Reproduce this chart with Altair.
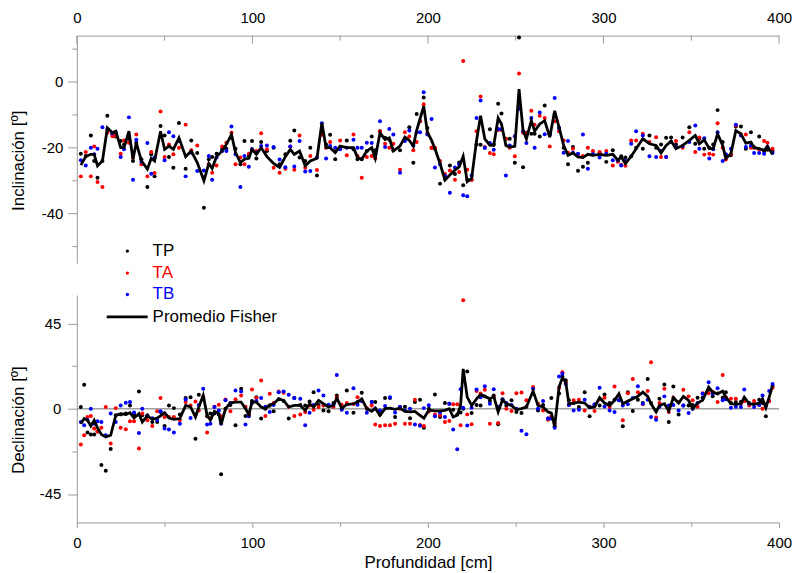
import altair as alt
import pandas as pd

# ---------------- Inclinación (upper panel) ----------------
depth_inc = [
    2.3, 5.1, 8, 9.9, 11.8, 14.6, 17.4, 20.3, 22.2, 25,
    26.9, 29.7, 32, 33.9, 36.8, 40.2, 42.4, 44.3, 47.7, 50,
    52.5, 55, 58.2, 62, 65.2, 68.6, 72.4, 75.2, 77.1, 79.6,
    82.8, 85.2, 88.1, 90.4, 93.2, 95.5, 98, 99.8, 102.3, 105,
    108.3, 112.1, 115.5, 118.8, 121.6, 123.9, 126.9, 130.1, 133, 136.8,
    139.6, 142, 144.3, 147.2, 150, 153.8, 157.6, 159.9, 162.3, 165.2,
    168, 170, 172.7, 175.6, 178, 180.3, 184.1, 186.9, 189.4, 191.7,
    193.6, 195.5, 197.6, 199.7, 202.1, 204, 206.9, 209.7, 212.5, 215.4,
    217.8, 220.1, 222.4, 224.9, 227.7, 230, 232.4, 235.3, 237.5, 240,
    241.9, 244.4, 246.6, 249.5, 251.9, 254.2, 256.1, 258.9, 260.8, 263.7,
    266.5, 269.4, 272.2, 274.7, 277.3, 279.8, 282.6, 285.5, 288.3, 291.1,
    294, 297.8, 301.6, 305.3, 308.2, 310.1, 312.5, 315.8, 318.6, 322.4,
    326.2, 330, 332.8, 335.7, 338.5, 341.3, 345.1, 348.9, 352.3, 354.6,
    357.4, 360.3, 362.5, 365, 367.9, 369.7, 372.6, 375.4, 378.3, 381.1,
    384, 385.8, 388.7, 391.5, 393.4, 396.3,
]
fisher_inc = [
    -25.3, -22.7, -22, -22, -25.5, -24, -14, -15.5, -15, -20,
    -20, -15, -23.5, -18.5, -24, -26.5, -23.2, -24, -15, -20.5,
    -19.5, -20.5, -17, -22.7, -21, -24.5, -30, -24.8, -26.3, -22.7,
    -21, -19, -16, -21.5, -24.5, -23.5, -23.2, -20.5, -22, -20,
    -22.7, -24.8, -26, -22.7, -20.5, -22, -21, -25.5, -24, -23.2,
    -12.5, -20, -20, -21.5, -19.5, -20, -20, -23, -23.5, -21,
    -20, -23.2, -15.5, -17.5, -17, -21, -19.5, -16.8, -17.8, -19.5,
    -14.7, -11.3, -7.4, -15.3, -17.8, -20.3, -24.8, -29.8, -28.3, -26.8,
    -25.8, -22.6, -30.3, -29.3, -17.8, -10.3, -17.3, -19.3, -19.3, -11,
    -12.8, -19.3, -19.8, -19.6, -2.2, -14.8, -17.3, -11.8, -15, -12.8,
    -11.8, -16.8, -8.8, -13.8, -19.3, -22.3, -21.6, -22.8, -23, -22,
    -22.3, -22, -22.3, -22, -23.8, -22.8, -24.8, -22.6, -20.3, -17.3,
    -18.8, -19.3, -21.6, -19.3, -18, -20.3, -19.3, -17.8, -16.3, -18.8,
    -17.6, -20.3, -20.3, -15.8, -19.3, -23.3, -21.8, -14.8, -15.8, -18.6,
    -18.3, -20, -20.3, -20.8, -19.6, -22,
]
tp_inc = [
    -21.8, -22.5, -16.3, -24, -29.1, -24, -10.3, -16, -16.6, -18,
    -19, -17.3, -24, -18.5, -23.5, -31.9, -22, -28.7, -13.4, -16.3,
    -22.8, -26.1, -12.5, -26.4, -17.8, -21.6, -38.2, -23.5, -22.8, -21.8,
    -20.5, -20.3, -17, -20.3, -25, -18, -22.5, -18, -23.3, -18.3,
    -21, -20, -25, -22, -17.9, -14.8, -23, -24, -20, -28.4,
    -14, -19, -16.1, -23.5, -20, -17.8, -20.5, -23.5, -23.5, -21,
    -16.6, -20.8, -15, -17, -17.6, -20.8, -20.8, -17.3, -13.8, -24.6,
    -9.8, -12, -4.8, -14, -20, -20.3, -30.9, -29.5, -25.4, -28,
    -24.5, -31.4, -29.7, -29.7, -19, -19.1, -20, -14.4, -19, -6.7,
    -9.6, -17.3, -17.3, -24.6, 13.4, -25.9, -15.5, -15.8, -15.8, -16.6,
    -7.2, -16, -10, -14, -20, -25, -19.8, -27, -25.8, -24.6,
    -22, -21.5, -24.3, -20.8, -24, -22.6, -23, -22.6, -20, -20.3,
    -16.3, -20, -19, -17, -16.9, -19, -16.9, -13.8, -18.8, -17.3,
    -20.3, -20, -19, -8.6, -18.3, -22.3, -22.3, -13.6, -13.6, -20.3,
    -15.3, -19.9, -16.6, -21, -20.6, -21,
]
ta_inc = [
    -28.7, -21.3, -28.7, -19.6, -30.4, -31.9, -15.5, -16.5, -16.3, -21.8,
    -17.8, -18.5, -23, -16, -25, -28.7, -21.3, -27.7, -9, -22.8,
    -19, -22, -20, -13, -20.8, -19.3, -29, -25, -27.6, -25.4,
    -19.6, -18.5, -15.5, -25, -23, -25, -21.8, -20.5, -21, -15.6,
    -20.5, -26.1, -27.6, -26.4, -19.6, -26.7, -16.3, -26.1, -22.5, -26.8,
    -16.1, -20, -18.3, -21, -17.8, -22.3, -16, -22.5, -29.1, -22.8,
    -22.5, -23.3, -15, -18.8, -20, -18.8, -26.7, -15.3, -16.6, -20.8,
    -18.3, -12, -6.8, -15.6, -20, -20, -24, -28, -26.9, -29.7,
    -27.4, 6.3, -26.7, -29.7, -15, -4.5, -19.8, -21.6, -22, -14.6,
    -14.6, -17.3, -20, -22.6, 2.5, -15.5, -15.6, -8.8, -13, -10.3,
    -11, -19.6, -12, -15, -17.8, -21.5, -20.3, -22, -22.5, -20,
    -21, -21.3, -21, -25.4, -24.3, -25.2, -25.5, -17.8, -17.8, -15.8,
    -18.3, -16.8, -22.8, -22.8, -18.3, -18, -20, -15.3, -21.3, -16.9,
    -22.1, -21.8, -22.1, -12.6, -20, -23.6, -22, -13.3, -15.9, -16,
    -20, -20, -20.6, -18, -18.5, -20.3,
]
tb_inc = [
    -23.8, -25.4, -20, -22, -20.3, -13.8, -14.3, -15.6, -15.3, -22.8,
    -20.5, -10.8, -29.7, -17.6, -24.3, -18.6, -27.9, -23, -16.5, -23.8,
    -15.3, -16.5, -18, -28.7, -21.5, -27.1, -26.9, -22.5, -29.7, -23,
    -21, -21, -13.6, -22, -31.9, -22.5, -25.8, -20.5, -21.5, -19.5,
    -19.3, -19.8, -23.6, -25.9, -19.6, -25.7, -18, -27.2, -27.1, -23,
    -12.6, -23.3, -19.5, -20, -20.5, -20, -17.6, -20, -20, -18.5,
    -18.6, -22, -12, -19.8, -14.3, -16, -27.6, -18, -14.8, -19.3,
    -15.3, -15.3, -3.2, -16, -11.3, -26, -25, -28.5, -33.7, -26,
    -25, -34.4, -34.7, -28.4, -11, -5.7, -20, -18.6, -20.6, -14.3,
    -14.3, -28.4, -19.3, -16.5, -8.2, -15, -18.6, -11, -20, -9.3,
    -15.9, -16, -4.9, -14, -21.5, -18, -21.5, -21.8, -16, -26.4,
    -22, -23, -21.8, -23.8, -23.8, -25.4, -24, -18.8, -15, -16.3,
    -22.6, -22.8, -21, -22.8, -18.3, -19.9, -19.5, -18.3, -13.3, -20.3,
    -17.1, -23.3, -20.5, -15.3, -24, -22, -20.3, -13, -16.3, -19.8,
    -19.3, -21.6, -21.6, -21.8, -19.8, -21.6,
]

# ---------------- Declinación (lower panel) ----------------
depth_dec = [
    2.3, 4.2, 6.1, 8, 9.9, 11.8, 14, 16.5, 19.3, 22.2,
    25, 27.9, 30.3, 32.6, 35.4, 37.3, 40.2, 43, 45.8, 47.7,
    50, 52.5, 55.3, 58.7, 62, 64.8, 67.6, 69.5, 72, 74.2,
    76.1, 78.4, 80.9, 82.2, 84.7, 87.5, 90.4, 93.6, 96.1, 98,
    99.8, 102.3, 105, 107.4, 109.9, 112.1, 115, 117.8, 120.7, 123.9,
    127.3, 130.1, 132.6, 134.9, 137.7, 140.5, 143.4, 146.2, 148.1, 150.9,
    153.8, 157.6, 159.9, 162.3, 165.2, 168, 170, 172.7, 175.6, 178.4,
    181.3, 184.1, 186.9, 189.8, 192.6, 195.5, 197.7, 200.5, 204, 206.9,
    209.7, 212.2, 214.4, 216.7, 218.6, 220.1, 222.4, 224.9, 227.7, 230,
    232.4, 235.3, 237.5, 240, 242.5, 244.7, 247.6, 250.4, 253.3, 256.1,
    259.9, 262.7, 265.6, 268.4, 270.3, 272.2, 274.7, 276.6, 278.5, 280.3,
    283, 286, 289.3, 292.1, 294.9, 297.8, 300.6, 303.5, 306.3, 308.8,
    311, 313.9, 316.7, 319.6, 322.4, 325.2, 327.1, 330, 331.9, 334.7,
    337.2, 339.8, 342.8, 345.5, 348.5, 350.8, 353.6, 356.5, 359.9, 362.2,
    365, 367.9, 369.7, 372.6, 375.4, 378.3, 380.2, 383, 385.8, 388.7,
    390.6, 392.5, 394.4, 396.3,
]
fisher_dec = [
    -7.9, -5.2, -6.1, -9.1, -6.1, -10.1, -13.6, -14.9, -14, -3.5,
    -2.6, -3.1, -2.1, -4.9, -2.6, -7, -3.8, -5.6, -4.9, -3.8,
    -2.1, -4.9, -5.6, -5.2, 1.7, 0.9, -4.4, 0.9, 7, -3.5,
    -6.1, -1.4, -2.6, -8.4, 0, 3.1, 3.5, 3.5, 0, -3.1,
    3.5, 3.5, 0.9, 0, 2.1, 2.6, 5.2, 4.4, 0.9, 1.7,
    1.7, -0.9, 2.6, 0.9, 4.4, 2.6, 0.9, 1.7, 5.6, 0.3,
    2.1, 2.6, 3.5, 5.2, 0, -1.4, 0.3, -3.5, 0, 0.3,
    -0.3, 0.3, -1.4, -1.7, -1.4, -3.5, -5, -0.8, -1.2, -1.2,
    -0.9, 0, -4.4, -3.5, 1.7, 21, 6.1, 1.7, 5.2, 7.5,
    6.5, 5.2, 6.5, -1.7, 4.7, 2.6, 1.7, -0.5, 0, 0.9,
    9.3, 1.7, 0.9, -1.7, -2.3, -9.3, 11.4, 16.3, 14, 2.6,
    3, 3.5, 3, 0.5, 0.9, 5.8, 3, 1.7, 4.4, 7.9,
    2.6, 4, 5.2, 6.5, 8.7, 6.5, 2.6, -1.7, 1.7, 2.6,
    -1.2, 5.8, 3, 6.5, 4.4, 0, 3, 4.4, 11.4, 8.7,
    7.9, 9.3, 6.1, 2.6, 2.3, 2.6, 6.1, 2.6, 2.3, 3,
    5.2, 0.5, 6.1, 12.2,
]
tp_dec = [
    0.9, 12.6, -12.6, -13.6, -13.6, -12, -29.7, -32.7, -21.3, -3.5,
    -3, -2.6, 1.7, -3, 9.1, -3.5, -3.5, -7, -7, -1.7,
    -9.1, 1.7, 0.3, -3, 5.6, 6.1, -15.9, 7.3, 5, -4,
    -2.6, -2.6, -3, -34.6, 0, 2, -8.7, 10.5, -3.8, -3.1,
    4, 6.1, -5.2, 0, 1.5, -1.4, 5, 4, -5.2, 5.6,
    2, 1.7, 3.8, 8.7, 2, -0.9, -1.4, 3, 7, 0,
    9.6, -2.1, 3.5, 8.4, 0, 3.5, 3.5, -3, 5.6, 5.6,
    -4.4, 0.9, 1, -5, 3.5, 4.7, -10.1, 0, 7.5, -4.4,
    3, 2.6, -0.5, -3, -2, 0, 19.6, -2.3, 2, 1.7,
    6.5, 4, 7, -8.2, 5, 1.7, 4.4, -1.7, -2.3, 1,
    8, -0.9, 2, -5.2, 5.6, -9.3, 8, 17, 15, 4.4,
    3, 0.9, 8.7, -4, 1.5, 1.7, 7.5, 3, 4.7, 4.4,
    -9.3, 8.7, -1.2, 4.7, 3, 15.7, 3, -0.9, 5.2, 12.8,
    -7, 11.7, -3.1, 1.7, 1.7, 2, 5.8, 5.8, 10, 6.5,
    8, 5.8, 8.7, 3, 3.5, 3.5, 4, 3, 2.6, 4.7,
    3, -4, 4, 12,
]
ta_dec = [
    -18.9, -14, -4.4, -3.8, -10.5, -12, -10, 0.9, -18.4, 0.3,
    -10.1, -10.8, -6.6, -6.6, -21, -2.6, -6.1, -9.1, -1.4, 5.6,
    -4.4, -4.4, -4.4, -6, 3.5, 1.7, 3.8, -1, 6, -12.6,
    -5, 1, 2.1, -4, 4.9, -1.4, 5, 7, 1, -3,
    10.1, 5.6, 14.9, -3.8, 7.9, 3, 9.1, 8.4, 1, -3.8,
    -3.1, -1.7, 1.7, -0.5, 0.9, 1.7, 1.7, 1, 6, 2.1,
    3, 2.5, 6.1, 4, 0.3, 1.7, -8.4, -9.1, -8.7, -8.8,
    -8, 0, -7.9, -7.9, 4.7, -8.6, -9.1, -1.5, -3, -3.5,
    -7, -6.5, 2.3, 2.3, -8.7, 57.2, -3, -8.2, 9.3, 8,
    10, -7.9, 6.1, -7.6, 8.2, 0, -1.2, 8.2, 8.6, 4.4,
    11.4, 2.6, -1, -5.8, -4, -8, 11, 19.2, 14, 2,
    4.4, 4.7, -0.9, 1, -1.2, 5, 5.8, 0.9, 11.7, 7,
    -6.1, 8.2, 15.7, 8.7, 2.3, 9.3, 24.5, -4.7, 3, 10.5,
    -1.7, 5.8, 3.5, 10, 6.5, 4.4, 1, 8.2, 8.2, 9,
    3.5, 17.8, 6, 5.2, 5.2, 2.6, 4, 1.7, 4, 2,
    0, 2.3, 4, 11,
]
tb_dec = [
    -7, -8.7, -6, 0, -8, -6.6, -7, -14, -2.6, -7,
    1.7, 3.1, 3.5, -2, -12.8, 0, -4, -5, -6, -1.4,
    -10.5, -11, -12.6, -7.9, 4.9, -4.9, -3, 2, 10.5, -8.4,
    -7.9, 0.9, -0.9, -8, 4.4, 3, 9.6, 9.1, -8.4, -4,
    3, 4, 5.6, 1, -1.7, 2, 8.7, 9.1, 7.3, 5.6,
    5.3, -8.7, -2.1, 2, 9.6, 7, 2.1, 2.1, 17.8, -0.5,
    -2.1, 10.8, 2.1, 4, -2.1, 3.5, 0, -1, 1.4, 6.1,
    -2, 0.9, -1, 0, -8.3, -9, 0.3, 1.8, -4, -2,
    -4.4, 2.6, -11, -21.4, 10.3, 0.5, -8.9, 0.5, 10.1, 6,
    11.9, 2.6, 10.3, 1, 4.7, 3, 2, 0, -11.7, -13.5,
    10.5, 0, 4, -5.2, -5.2, -10, 17, 18.4, 13, 2,
    -0.9, -0.5, 4.7, 0.9, 2.3, 11, 1.2, -0.9, -1.7, 4.4,
    1.7, 2.3, 5.6, 11.9, 2.6, 4.7, -4.4, -5.8, 1, 6.5,
    1.7, 2, -0.9, 1.7, -2.3, 0, 3, 7.9, 14, 8,
    10.8, 4.4, 5, 0.5, 1, 0.9, 10.1, 2.6, 0.9, 2,
    7, 1.5, 9.3, 13,
]

SERIES = ["TP", "TA", "TB"]
COLORS = ["#000000", "#ff0000", "#0000ff"]
FONT = "Liberation Sans"
GRAY = "#9a9a9a"
W, H = 704, 228


def points_frame(depth, tp, ta, tb):
    rows = []
    for name, vals in zip(SERIES, (tp, ta, tb)):
        for d, v in zip(depth, vals):
            rows.append({"depth": d, "value": v, "series": name})
    return pd.DataFrame(rows)


x_scale = alt.Scale(domain=[0, 400], nice=False, zero=False)
color_scale = alt.Scale(domain=SERIES, range=COLORS)


def panel(depth, fisher, tp, ta, tb, y_domain, x_axis, y_axis):
    y_scale = alt.Scale(domain=y_domain, nice=False, zero=False)
    pts = alt.Chart(points_frame(depth, tp, ta, tb)).mark_circle(
        size=16, opacity=1
    ).encode(
        x=alt.X("depth:Q", scale=x_scale, axis=x_axis),
        y=alt.Y("value:Q", scale=y_scale, axis=y_axis),
        color=alt.Color("series:N", scale=color_scale, legend=None),
    )
    line = alt.Chart(pd.DataFrame({"depth": depth, "value": fisher})).mark_line(
        color="black", strokeWidth=2.8
    ).encode(
        x=alt.X("depth:Q", scale=x_scale, axis=x_axis),
        y=alt.Y("value:Q", scale=y_scale, axis=y_axis),
    )
    return pts, line


# --- upper panel: depth axis on top, ticks pointing into the plot
x_axis_top = alt.Axis(
    orient="top", values=[0, 100, 200, 300, 400], ticks=False, tickSize=0,
    labelPadding=10, labelFlush=False, title=None, domainColor=GRAY,
)
y_axis_inc = alt.Axis(
    values=[-50, -40, -30, -20, -10, 0, 10],
    labelExpr="datum.value % 20 === 0 ? toString(datum.value) : ''",
    tickSize={"condition": {"test": "datum.value % 20 === 0", "value": 9}, "value": 5},
    labelPadding=5, title="Inclinación [º]", titleX=-49, titleY=H / 2 + 11,
    titleFontSize=17,
)
pts_inc, line_inc = panel(depth_inc, fisher_inc, tp_inc, ta_inc, tb_inc,
                          [-55, 14], x_axis_top, y_axis_inc)

major = pd.DataFrame({"t": [0, 100, 200, 300, 400]})
minor = pd.DataFrame({"t": [50, 150, 250, 350]})
ticks_major = alt.Chart(major).mark_rule(color=GRAY).encode(
    x=alt.X("t:Q", scale=x_scale, axis=x_axis_top), y=alt.value(0), y2=alt.value(8)
)
ticks_minor = alt.Chart(minor).mark_rule(color=GRAY).encode(
    x=alt.X("t:Q", scale=x_scale, axis=x_axis_top), y=alt.value(0), y2=alt.value(5)
)

# legend drawn by hand so that dots and the averaged line share one block
legend_rows = [("TP", "#000000", 216), ("TA", "#ff0000", 238), ("TB", "#0000ff", 259.5)]
legend_layers = []
for label, col, yy in legend_rows:
    df = pd.DataFrame({"label": [label]})
    legend_layers.append(
        alt.Chart(df).mark_circle(size=11, color=col, opacity=1).encode(
            x=alt.value(50.7), y=alt.value(yy)
        )
    )
    legend_layers.append(
        alt.Chart(df).mark_text(align="left", baseline="middle", font=FONT,
                                fontSize=17, color=col).encode(
            x=alt.value(76), y=alt.value(yy), text="label:N"
        )
    )
legend_layers.append(
    alt.Chart(pd.DataFrame({"label": ["Promedio Fisher"]})).mark_rule(
        color="black", strokeWidth=2.8
    ).encode(x=alt.value(30), x2=alt.value(71), y=alt.value(282))
)
legend_layers.append(
    alt.Chart(pd.DataFrame({"label": ["Promedio Fisher"]})).mark_text(
        align="left", baseline="middle", font=FONT, fontSize=17, color="black"
    ).encode(x=alt.value(76), y=alt.value(282), text="label:N")
)

top = alt.layer(pts_inc, line_inc, ticks_major, ticks_minor, *legend_layers).properties(
    width=W, height=H
)

# --- lower panel
x_axis_bottom = alt.Axis(
    orient="bottom", values=[0, 50, 100, 150, 200, 250, 300, 350, 400],
    labelExpr="datum.value % 100 === 0 ? datum.label : ''",
    tickSize={"condition": {"test": "datum.value % 100 === 0", "value": 5}, "value": 4},
    labelPadding=8, labelFlush=False, title="Profundidad [cm]", titleY=32,
    titleFontSize=17,
)
y_axis_dec = alt.Axis(
    values=[-45, -22.5, 0, 22.5, 45],
    labelExpr="datum.value % 45 === 0 ? toString(datum.value) : ''",
    tickSize={"condition": {"test": "datum.value % 45 === 0", "value": 9}, "value": 5},
    labelPadding=7, title="Declinación [º]", titleX=-49, titleY=H / 2 + 11,
    titleFontSize=17,
)
pts_dec, line_dec = panel(depth_dec, fisher_dec, tp_dec, ta_dec, tb_dec,
                          [-60, 60], x_axis_bottom, y_axis_dec)
zero_line = alt.Chart(pd.DataFrame({"value": [0]})).mark_rule(
    color="#a0a0a0", strokeWidth=1.5
).encode(y=alt.Y("value:Q", scale=alt.Scale(domain=[-60, 60], nice=False, zero=False),
                 axis=y_axis_dec))

bottom = alt.layer(zero_line, pts_dec, line_dec).properties(width=W, height=H)

chart = alt.vconcat(top, bottom, spacing=32).properties(
    bounds="flush",
    padding={"left": 10, "top": 10, "right": 0, "bottom": 2},
).configure_axis(
    labelFont=FONT, titleFont=FONT, labelFontSize=15, titleFontSize=16,
    titleFontWeight="normal", labelColor="black", titleColor="black",
    grid=False, domainColor=GRAY, tickColor=GRAY,
).configure_view(stroke=None)

chart.save("out.html", embed_options={"renderer": "svg", "actions": False})
